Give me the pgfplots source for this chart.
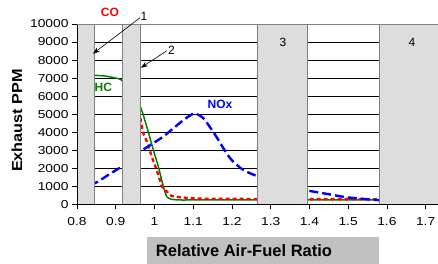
\documentclass[border=0pt]{standalone}
\usepackage{pgfplots}
\pgfplotsset{compat=1.18}
\usepackage{fontspec}
\setmainfont{Liberation Sans}
\newfontfamily\tickfont{Liberation Sans}[FakeStretch=1.2]
\newfontfamily\ylabfont{Liberation Sans}[FakeStretch=1.12]
\usetikzlibrary{arrows.meta}
\definecolor{boxgray}{HTML}{DDDDDD}
\definecolor{boxedge}{HTML}{808080}
\definecolor{labgray}{HTML}{C0C0C0}
\definecolor{cored}{HTML}{FF0000}
\definecolor{hcgreen}{HTML}{008000}
\definecolor{noxblue}{HTML}{0000FF}
\begin{document}
\begin{tikzpicture}
\useasboundingbox (-77pt,-59.7pt) rectangle (361pt,204.3pt);
\begin{axis}[
  scale only axis, width=361pt, height=180.3pt,
  xmin=0.8, xmax=1.732, ymin=0, ymax=10000,
  xtick={0.8,0.9,1.0,1.1,1.2,1.3,1.4,1.5,1.6,1.7},
  xticklabels={0.8,0.9,1,1.1,1.2,1.3,1.4,1.5,1.6,1.7},
  ytick={0,1000,2000,3000,4000,5000,6000,7000,8000,9000,10000},
  yticklabels={0,1000,2000,3000,4000,5000,6000,7000,8000,9000,10000},
  scaled y ticks=false, scaled x ticks=false,
  ymajorgrids, grid style={black, line width=0.6pt},
  axis x line*=bottom, axis y line*=left,
  axis line style={black, line width=0.8pt, -},
  tick style={black, line width=0.6pt},
  tick align=outside, major tick length=5pt,
  /pgf/number format/assume math mode=true,
  ticklabel style={font=\tickfont\fontsize{11.5}{13}\selectfont},
  xticklabel style={yshift=-5pt},
  clip=false,
]
\addplot[hcgreen, line width=1.5pt, smooth, tension=0.4] coordinates {
(0.80,7200) (0.846,7150) (0.865,7130) (0.885,7070) (0.900,7000) (0.915,6890)
(0.94,6300) (0.965,5330) (0.980,4310) (0.997,3020) (1.010,2090) (1.023,980)
(1.032,420) (1.044,280) (1.066,240) (1.1,240) (1.2,240) (1.3,240) (1.4,240)
(1.5,240) (1.6,240)};
\addplot[cored, line width=2.4pt, dash pattern=on 4pt off 3pt] coordinates {
(0.930,9000) (0.965,4600) (0.971,3950) (0.982,3400) (0.993,2640) (1.001,2180)
(1.010,1630) (1.019,980) (1.032,700) (1.044,460) (1.066,390) (1.096,330)
(1.122,310) (1.2,300) (1.3,290) (1.4,290) (1.5,285) (1.6,280)};
\addplot[noxblue, line width=2.4pt, dash pattern=on 9pt off 4pt, smooth, tension=0.4] coordinates {
(0.80,900) (0.846,1170) (0.88,1620) (0.915,2090) (0.94,2550) (0.967,2980)
(0.997,3390) (1.023,3760) (1.044,4130) (1.070,4590) (1.090,4900) (1.105,5040)
(1.126,4780) (1.148,4130) (1.165,3570) (1.186,2830) (1.203,2370) (1.229,1910)
(1.257,1630) (1.30,1300) (1.35,1000) (1.396,760) (1.45,560) (1.496,390)
(1.574,240) (1.62,200)};
% grey boxes
\filldraw[fill=boxgray, draw=boxedge, line width=0.8pt] (axis cs:0.8,0) rectangle (axis cs:0.846,10000);
\filldraw[fill=boxgray, draw=boxedge, line width=0.8pt] (axis cs:0.916,0) rectangle (axis cs:0.963,10000);
\filldraw[fill=boxgray, draw=boxedge, line width=0.8pt] (axis cs:1.265,0) rectangle (axis cs:1.396,10000);
\filldraw[fill=boxgray, draw=boxedge, line width=0.8pt] (axis cs:1.58,0) rectangle (axis cs:1.74,10000);
\draw[black, line width=0.8pt] (axis cs:0.8,10000) -- (axis cs:0.8,0) -- (axis cs:1.732,0);
\draw[boxedge, line width=0.8pt] (axis cs:0.8,10000) -- (axis cs:1.732,10000);
% annotations
\node[cored, font=\bfseries\fontsize{12}{14}\selectfont] at (axis cs:0.885,10630) {CO};
\node[hcgreen, font=\bfseries\fontsize{12}{14}\selectfont] at (axis cs:0.868,6490) {HC};
\node[noxblue, font=\bfseries\fontsize{12}{14}\selectfont] at (axis cs:1.169,5560) {NOx};
\node[font=\fontsize{12}{14}\selectfont] at (axis cs:0.973,10445) {1};
\node[font=\fontsize{12}{14}\selectfont] at (axis cs:1.044,8530) {2};
\node[font=\fontsize{12}{14}\selectfont] at (axis cs:1.332,8960) {3};
\node[font=\fontsize{12}{14}\selectfont] at (axis cs:1.665,8960) {4};
\draw[-{Stealth[length=7pt,width=5pt]}, line width=0.6pt] (axis cs:0.963,10350) -- (axis cs:0.841,8350);
\draw[-{Stealth[length=7pt,width=5pt]}, line width=0.6pt] (axis cs:1.032,8517) -- (axis cs:0.965,7572);
\end{axis}
\fill[labgray] (70pt,-59.7pt) rectangle (302pt,-32.4pt);
\node[font=\bfseries\fontsize{16.5}{18}\selectfont] at (167pt,-46pt) {Relative Air-Fuel Ratio};
\node[rotate=90, font=\ylabfont\bfseries\fontsize{14.5}{16}\selectfont] at (-60pt,83.8pt) {Exhaust PPM};
\end{tikzpicture}
\end{document}
